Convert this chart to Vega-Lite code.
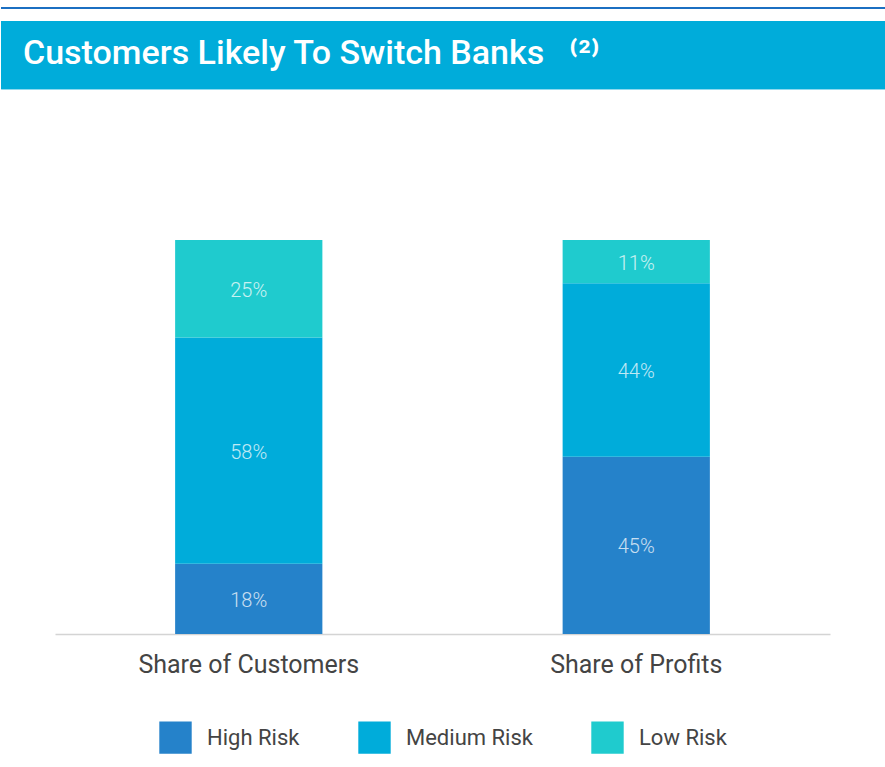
{
  "$schema": "https://vega.github.io/schema/vega-lite/v6.json",
  "padding": {"top": 7, "left": 0, "right": 0, "bottom": 0},
  "background": "white",
  "config": {"view": {"stroke": null}, "font": "Roboto"},
  "spacing": 150,
  "vconcat": [
    {
      "spacing": 11,
      "vconcat": [
        {
          "width": 885, "height": 2,
          "view": {"fill": "#1b6fc2", "stroke": null},
          "data": {"values": [{}]},
          "mark": {"type": "rect", "color": "#1b6fc2"},
          "encoding": {}
        },
        {
          "width": 885, "height": 68,
          "view": {"fill": "#00acda", "stroke": "#8fd9ee"},
          "title": {
            "text": "Customers Likely To Switch Banks \u00a0\u00a0⁽²⁾",
            "anchor": "start", "orient": "top", "frame": "group",
            "offset": -50, "dx": 22,
            "color": "white", "fontSize": 34, "fontWeight": 500, "font": "Roboto"
          },
          "data": {"values": [{}]},
          "mark": {"type": "rect", "color": "#00acda"},
          "encoding": {}
        }
      ]
    },
    {
      "width": 885, "height": 394,
      "data": {"values": [
        {"measure": "Share of Customers", "risk": "High Risk", "rank": 1, "share": 0.18},
        {"measure": "Share of Customers", "risk": "Medium Risk", "rank": 2, "share": 0.58},
        {"measure": "Share of Customers", "risk": "Low Risk", "rank": 3, "share": 0.25},
        {"measure": "Share of Profits", "risk": "High Risk", "rank": 1, "share": 0.45},
        {"measure": "Share of Profits", "risk": "Medium Risk", "rank": 2, "share": 0.44},
        {"measure": "Share of Profits", "risk": "Low Risk", "rank": 3, "share": 0.11}
      ]},
      "encoding": {
        "x": {
          "field": "measure", "type": "nominal",
          "sort": ["Share of Customers", "Share of Profits"],
          "scale": {"range": [54, 829], "paddingInner": 0.62, "paddingOuter": 0.31},
          "axis": {
            "title": null, "labelAngle": 0, "ticks": false, "labelLimit": 0,
            "domainColor": "#d4d4d4", "domainWidth": 1.5,
            "labelFontSize": 25, "labelColor": "#444444", "labelPadding": 18,
            "labelFont": "Roboto"
          }
        },
        "y": {
          "field": "share", "type": "quantitative", "stack": "normalize",
          "axis": null
        },
        "order": {"field": "rank", "type": "quantitative"}
      },
      "layer": [
        {
          "mark": {"type": "bar"},
          "encoding": {
            "color": {
              "field": "risk", "type": "nominal",
              "scale": {"domain": ["High Risk", "Medium Risk", "Low Risk"], "range": ["#2582ca", "#00acda", "#1fcbce"]},
              "legend": {
                "title": null, "orient": "none", "direction": "horizontal",
                "legendX": 158, "legendY": 714,
                "symbolType": "square", "symbolSize": 1050, "symbolStrokeWidth": 0,
                "labelFontSize": 22, "labelColor": "#444444", "labelOffset": 15,
                "columnPadding": 58, "labelFont": "Roboto"
              }
            }
          }
        },
        {
          "mark": {"type": "text", "fontSize": 20, "fontWeight": 300, "color": "white", "opacity": 0.75, "dy": 2},
          "encoding": {
            "y": {"field": "share", "type": "quantitative", "stack": "normalize", "bandPosition": 0.5},
            "text": {"field": "share", "type": "quantitative", "format": ".0%"},
            "detail": {"field": "risk"}
          }
        }
      ]
    }
  ]
}
